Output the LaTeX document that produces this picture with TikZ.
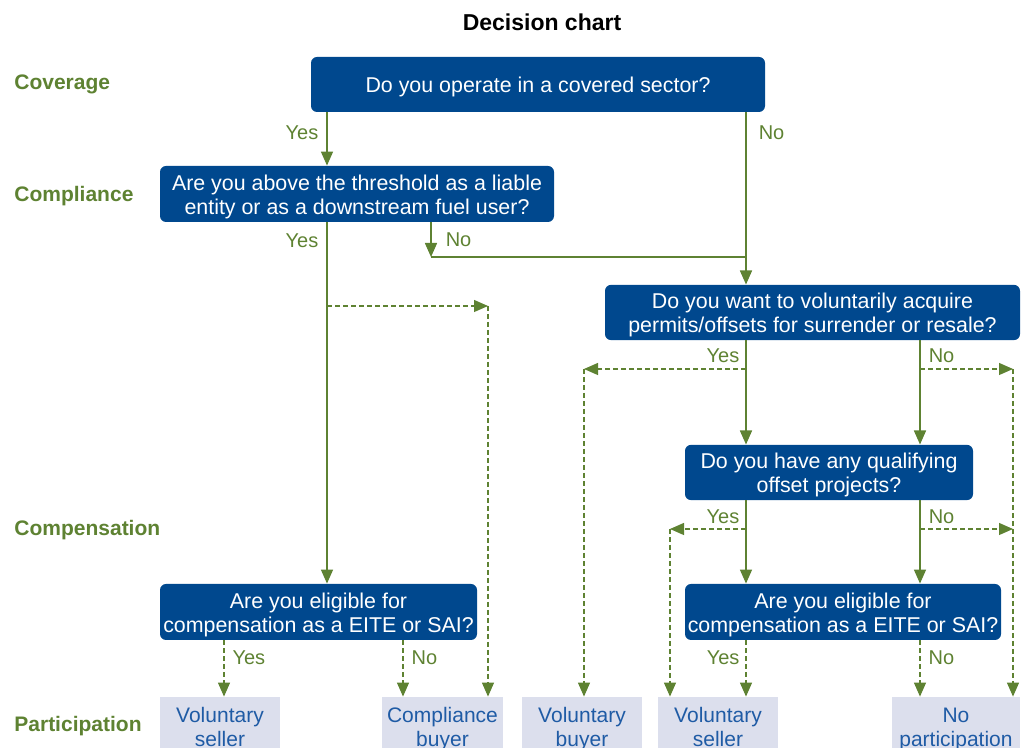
\documentclass[tikz,border=0pt]{standalone}
\usepackage{fontspec}
\setmainfont{Liberation Sans}
\usepackage{xcolor}
\usetikzlibrary{arrows.meta, positioning, calc}

\definecolor{qblue}{HTML}{00488E}
\definecolor{lgreen}{HTML}{5E8232}
\definecolor{outfill}{HTML}{DCDFED}
\definecolor{outtext}{HTML}{1F5BA5}

\tikzset{
  question/.style={fill=qblue, text=white, rounded corners=3pt, align=center,
    inner sep=0pt, minimum height=28pt, font=\fontsize{10.7}{12}\selectfont,
    text height=24pt, text depth=3.6pt},
  oneline/.style={text height=12pt},
  outcome/.style={fill=outfill, text=outtext, align=center, inner sep=0pt,
    minimum width=60pt, minimum height=29pt, font=\fontsize{10.5}{12}\selectfont,
    text height=24pt, text depth=3.6pt},
  rowlabel/.style={anchor=west, inner sep=0pt, text=lgreen,
    font=\bfseries\fontsize{10.5}{12}\selectfont},
  answer/.style={text=lgreen, inner sep=1pt, font=\fontsize{10}{12}\selectfont},
  flow/.style={draw=lgreen, line width=0.75pt, -{Triangle[length=7pt,width=6pt]}},
  optional/.style={flow, line width=0.6pt, dash pattern=on 2.5pt off 1.5pt},
  link/.style={draw=lgreen, line width=0.75pt},
}

\begin{document}
\begin{tikzpicture}[x=0.5pt, y=-0.5pt]
  \useasboundingbox (0,0) rectangle (1025,748);

  \node[font=\bfseries\fontsize{11.5}{14}\selectfont] (title) at (542,22) {Decision chart};

  % stages
  \node[rowlabel] (coverage) at (14,84) {Coverage};
  \node[rowlabel] (compliance) at (14,196) {Compliance};
  \node[rowlabel] (compensation) at (14,530) {Compensation};
  \node[rowlabel] (participation) at (14,726) {Participation};

  % questions
  \node[question, oneline, minimum width=227pt, minimum height=27.5pt] (sector) at (538,84.5)
    {Do you operate in a covered sector?};
  \node[question, minimum width=197pt] (threshold) at (357,194)
    {Are you above the threshold as a liable\\entity or as a downstream fuel user?};
  \node[question, minimum width=207.5pt, minimum height=27.5pt] (acquire) at (812.5,312.5)
    {Do you want to voluntarily acquire\\permits/offsets for surrender or resale?};
  \node[question, minimum width=144pt, minimum height=27.5pt] (offsets) at (829,472.5)
    {Do you have any qualifying\\offset projects?};
  \node[question, minimum width=158.5pt] (eligL) at (318.5,612)
    {Are you eligible for\\compensation as a EITE or SAI?};
  \node[question, minimum width=158pt] (eligR) at (843,612)
    {Are you eligible for\\compensation as a EITE or SAI?};

  % outcomes
  \node[outcome] (vseller1) at (220,726) {Voluntary\\seller};
  \node[outcome, minimum width=60.5pt] (cbuyer) at (442.5,726) {Compliance\\buyer};
  \node[outcome] (vbuyer) at (582,726) {Voluntary\\buyer};
  \node[outcome] (vseller2) at (718,726) {Voluntary\\seller};
  \node[outcome, minimum width=64pt] (nopart) at (956,726) {No\\participation};

  % junctions
  \coordinate (yescol) at (327,306);
  \coordinate (cbcol) at (488,306);
  \coordinate (nojoin) at (746,257);
  \coordinate (noarr) at (431,257);
  \coordinate (acqyes) at (746,369);
  \coordinate (vbcol) at (584,369);
  \coordinate (acqno) at (920,369);
  \coordinate (npcol) at (1013,369);
  \coordinate (offyes) at (746,529);
  \coordinate (vscol) at (670,529);
  \coordinate (offno) at (920,529);
  \coordinate (npcol2) at (1013,529);
  \coordinate (lyes) at (224,660);
  \coordinate (lno) at (403,660);

  % coverage
  \draw[flow] (sector.south -| yescol) -- node[answer, pos=.38, left=3pt] {Yes} (threshold.north -| yescol);
  \draw[flow] (sector.south -| nojoin) -- node[answer, pos=.12, right=5pt] {No} (acquire.north -| nojoin);

  % compliance
  \draw[flow] (threshold.south -| yescol) -- node[answer, pos=.05, left=3pt] {Yes} (eligL.north -| yescol);
  \draw[flow] (threshold.south -| noarr) -- node[answer, pos=.5, right=6pt] {No} (noarr);
  \draw[link] (noarr) -- (nojoin);
  \draw[optional] (yescol) -- (cbcol);
  \draw[optional] (cbcol) -- (cbuyer.north -| cbcol);

  % voluntary acquisition
  \draw[flow] (acquire.south -| acqyes) -- node[answer, pos=.15, left=2pt] {Yes} (offsets.north -| acqyes);
  \draw[flow] (acquire.south -| acqno) -- node[answer, pos=.15, right=3pt] {No} (offsets.north -| acqno);
  \draw[optional] (acqyes) -- (vbcol);
  \draw[optional] (vbcol) -- (vbuyer.north -| vbcol);
  \draw[optional] (acqno) -- (npcol);
  \draw[optional] (npcol) -- (nopart.north -| npcol);

  % offset projects
  \draw[flow] (offsets.south -| offyes) -- node[answer, pos=.2, left=2pt] {Yes} (eligR.north -| offyes);
  \draw[flow] (offsets.south -| offno) -- node[answer, pos=.2, right=3pt] {No} (eligR.north -| offno);
  \draw[optional] (offyes) -- (vscol);
  \draw[optional] (vscol) -- (vseller2.north -| vscol);
  \draw[optional] (offno) -- (npcol2);

  % compensation
  \draw[optional] (eligL.south -| lyes) -- node[answer, pos=.3, right=3pt] {Yes} (vseller1.north -| lyes);
  \draw[optional] (eligL.south -| lno) -- node[answer, pos=.3, right=3pt] {No} (cbuyer.north -| lno);
  \draw[optional] (eligR.south -| offyes) -- node[answer, pos=.3, left=2pt] {Yes} (vseller2.north -| offyes);
  \draw[optional] (eligR.south -| offno) -- node[answer, pos=.3, right=3pt] {No} (nopart.north -| offno);
\end{tikzpicture}
\end{document}
